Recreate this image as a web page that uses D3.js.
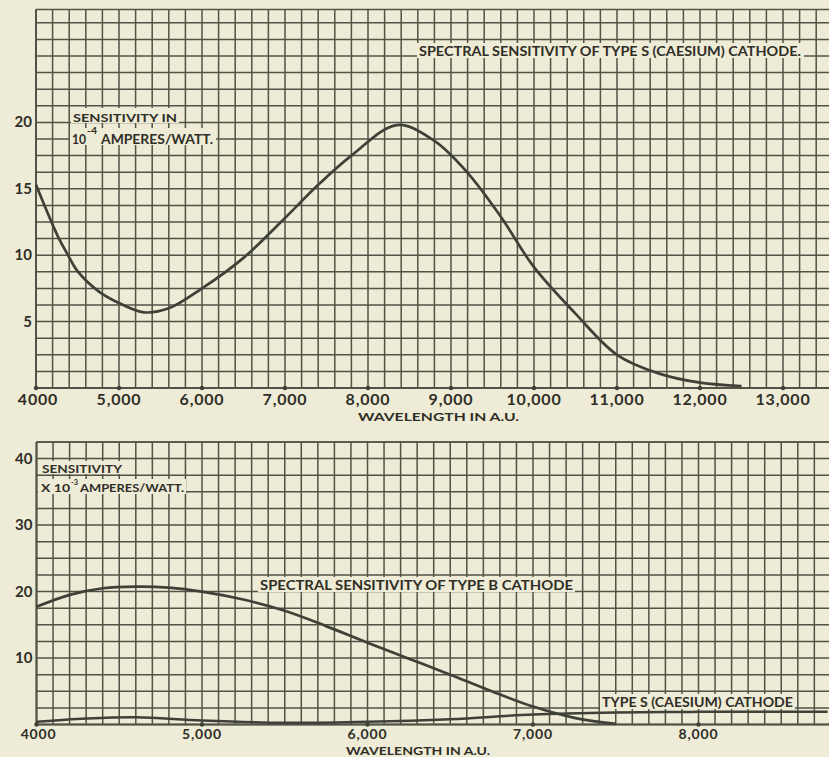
<!DOCTYPE html>
<html>
<head>
<meta charset="utf-8">
<script src="https://cdn.jsdelivr.net/npm/d3@7"></script>
<style>
  html, body { margin: 0; padding: 0; background: #eeebd6; }
  svg { display: block; }
  text { font-family: "Lato", "DejaVu Sans", sans-serif; font-weight: 700; fill: #2f2e27; }
</style>
</head>
<body>
<svg id="chart" width="829" height="757"></svg>
<script>
// ---------- DATA ----------
// Top panel: Type S (caesium) cathode, sensitivity in 10^-4 A/W
const topWavelengths = [4000, 4265, 4386, 4500, 4750, 5000, 5300, 5600, 6000, 6500, 7000, 7400, 7800, 8350, 8800, 9200, 9600, 10000, 10500, 11000, 11500, 12000, 12500];
const topSensitivity = [15.3, 11.4, 10.0, 8.8, 7.3, 6.4, 5.7, 6.0, 7.5, 9.8, 12.8, 15.3, 17.5, 19.8, 18.6, 16.2, 12.9, 9.1, 5.6, 2.5, 1.1, 0.4, 0.15];
const topXTicks = [4000, 5000, 6000, 7000, 8000, 9000, 10000, 11000, 12000, 13000];
const topXTickLabels = ["4000", "5,000", "6,000", "7,000", "8,000", "9,000", "10,000", "11,000", "12,000", "13,000"];
const topYTicks = [5, 10, 15, 20];
const topYTickLabels = ["5", "10", "15", "20"];

// Bottom panel: sensitivity x 10^-3 A/W
const botWavelengthsB = [4000, 4200, 4400, 4600, 4800, 5000, 5250, 5500, 5750, 6000, 6250, 6500, 6750, 7000, 7250, 7500];
const botTypeB = [17.7, 19.5, 20.5, 20.75, 20.6, 20.0, 18.8, 17.1, 14.8, 12.3, 9.9, 7.5, 5.0, 2.7, 1.0, 0.1];
const botWavelengthsS = [4000, 4300, 4600, 5000, 5500, 6000, 6500, 7000, 7500, 8000, 8500, 8780];
const botTypeS = [0.4, 0.9, 1.1, 0.6, 0.25, 0.4, 0.8, 1.5, 1.8, 1.9, 1.9, 1.9];
const botXTicks = [4000, 5000, 6000, 7000, 8000];
const botXTickLabels = ["4000", "5,000", "6,000", "7,000", "8,000"];
const botYTicks = [10, 20, 30, 40];
const botYTickLabels = ["10", "20", "30", "40"];

// ---------- DRAW ----------
const svg = d3.select("#chart");
const BG = "#eeebd6";
const GRID = "#505346";
const INK = "#3f4138";

function panel(o) {
  const x = d3.scaleLinear().domain(o.xDomain).range(o.xRange);
  const y = d3.scaleLinear().domain(o.yDomain).range(o.yRange);
  const g = svg.append("g");
  const x0 = o.xRange[0], x1 = Math.min(829, o.xRange[1]);
  const yb = o.yRange[0], yt = o.yRange[1];
  g.append("g").selectAll("line").data(d3.range(o.xDomain[0], o.xDomain[1] + 1, o.xStep))
    .join("line")
    .attr("x1", d => x(d)).attr("x2", d => x(d))
    .attr("y1", yt).attr("y2", yb)
    .attr("stroke", GRID).attr("stroke-width", 1.5);
  g.append("g").selectAll("line").data(d3.range(o.yDomain[0], o.yDomain[1] + 0.001, o.yStep).concat([o.yDomain[1]]))
    .join("line")
    .attr("x1", x0).attr("x2", x1)
    .attr("y1", d => y(d)).attr("y2", d => y(d))
    .attr("stroke", GRID).attr("stroke-width", 1.5);
  g.append("line").attr("x1", x0).attr("x2", x1).attr("y1", yb).attr("y2", yb)
    .attr("stroke", GRID).attr("stroke-width", 2);
  g.append("line").attr("x1", x0).attr("x2", x0).attr("y1", yt).attr("y2", yb)
    .attr("stroke", GRID).attr("stroke-width", 2);
  g.append("g").selectAll("circle").data(o.xTicks).join("circle")
    .attr("cx", d => x(d)).attr("cy", yb).attr("r", 2.2).attr("fill", INK);
  g.append("g").selectAll("text").data(o.xTicks).join("text")
    .attr("x", d => x(d) + (d === o.xDomain[0] ? 2 : 0)).attr("y", o.xLabelY)
    .attr("text-anchor", "middle").attr("font-size", o.xLabelSize)
    .attr("letter-spacing", 0.8)
    .text((d, i) => o.xTickLabels[i]);
  g.append("g").selectAll("text").data(o.yTicks).join("text")
    .attr("x", x0 - 4).attr("y", d => y(d) + 5)
    .attr("text-anchor", "end").attr("font-size", 15)
    .attr("fill", "#3a2d22")
    .text((d, i) => o.yTickLabels[i]);
  return { x, y, g };
}

function box(x, y, w, h) {
  svg.append("rect").attr("x", x).attr("y", y).attr("width", w).attr("height", h).attr("fill", BG);
}
function label(txt, x, y, size, len) {
  const t = svg.append("text").attr("x", x).attr("y", y).attr("font-size", size).text(txt);
  if (len) t.attr("textLength", len).attr("lengthAdjust", "spacingAndGlyphs");
  return t;
}

// Top panel
const topPanel = panel({
  xDomain: [4000, 13600], xRange: [36, 36 + 9.6 * 83], xStep: 200,
  yDomain: [0, 28.5], yRange: [388, 9.5], yStep: 1.25,
  xTicks: topXTicks, xTickLabels: topXTickLabels, xLabelY: 405, xLabelSize: 16,
  yTicks: topYTicks, yTickLabels: topYTickLabels
});
const lineTop = d3.line().x((d, i) => topPanel.x(topWavelengths[i])).y(d => topPanel.y(d)).curve(d3.curveCatmullRom.alpha(0.5));
svg.append("path").datum(topSensitivity).attr("d", lineTop)
  .attr("fill", "none").attr("stroke", INK).attr("stroke-width", 2.7);

box(417, 43, 387, 15);
label("SPECTRAL SENSITIVITY OF TYPE S (CAESIUM) CATHODE.", 419, 56, 13, 382);
box(71, 108, 108, 15);
label("SENSITIVITY IN", 73, 122, 12, 104);
box(70, 128, 146, 17);
label("10", 72, 144, 12.5, 14);
label("-4", 87, 134, 10, 10);
label("AMPERES/WATT.", 101, 144, 12.5, 112);
label("WAVELENGTH IN A.U.", 358, 421, 12, 161);

// Bottom panel
const botPanel = panel({
  xDomain: [4000, 8800], xRange: [36.5, 36.5 + 4.8 * 165.5], xStep: 100,
  yDomain: [0, 42.5], yRange: [724.5, 442], yStep: 2.5,
  xTicks: botXTicks, xTickLabels: botXTickLabels, xLabelY: 739, xLabelSize: 14,
  yTicks: botYTicks, yTickLabels: botYTickLabels
});
const lineB = d3.line().x((d, i) => botPanel.x(botWavelengthsB[i])).y(d => botPanel.y(d)).curve(d3.curveCatmullRom.alpha(0.5));
const lineS = d3.line().x((d, i) => botPanel.x(botWavelengthsS[i])).y(d => botPanel.y(d)).curve(d3.curveCatmullRom.alpha(0.5));

box(40, 461, 84, 13);
label("SENSITIVITY", 42, 473, 11.5, 80);
box(38, 479, 148, 15);
label("X 10", 41, 492, 12, 29);
label("-3", 71, 485, 7, 7);
label("AMPERES/WATT.", 80, 492, 12, 104);
box(258, 577, 317, 15);
label("SPECTRAL SENSITIVITY OF TYPE B CATHODE", 260, 590, 13, 313);
box(600, 694, 195, 15);
label("TYPE S (CAESIUM) CATHODE", 602, 707, 13, 191);
label("WAVELENGTH IN A.U.", 346, 755, 11.5, 144);

svg.append("path").datum(botTypeB).attr("d", lineB)
  .attr("fill", "none").attr("stroke", INK).attr("stroke-width", 2.7);
svg.append("path").datum(botTypeS).attr("d", lineS)
  .attr("fill", "none").attr("stroke", INK).attr("stroke-width", 2.5);
</script>
</body>
</html>
